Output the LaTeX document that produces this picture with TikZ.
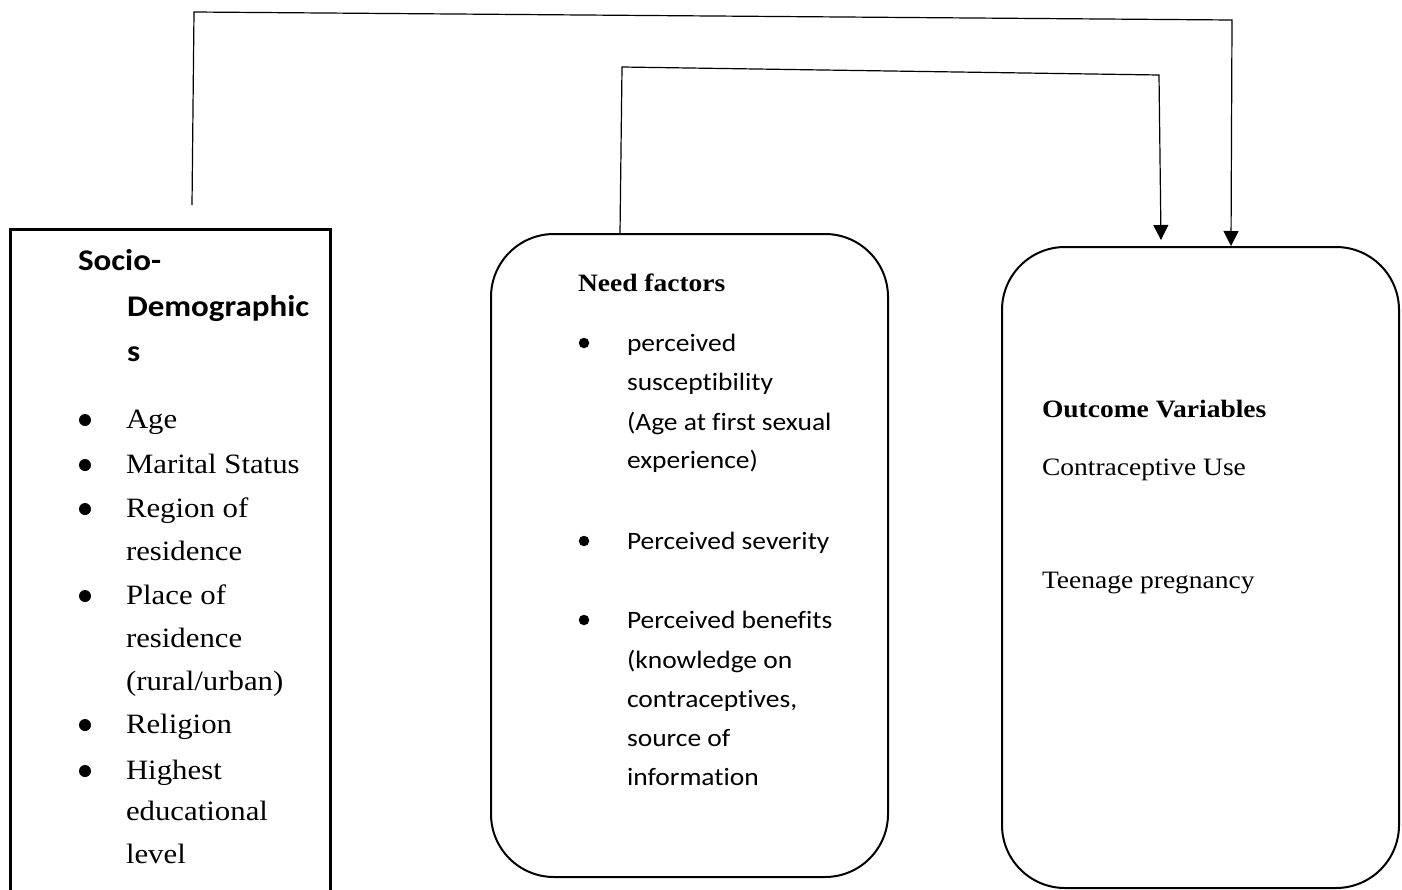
\documentclass[tikz,border=0pt]{standalone}
\usepackage{fontspec}
\usepackage{graphicx}
\setmainfont{Liberation Serif}
\newfontfamily\calfont[Ligatures=NoCommon]{Carlito}
\usetikzlibrary{arrows.meta,calc}
\newcommand\mywide[1]{\scalebox{1.1}[1]{#1}}
\tikzset{
  sqbox/.style={draw, line width=2.6pt, rectangle, inner sep=0pt},
  rbox/.style={draw, line width=2pt, rectangle, rounded corners=63pt, inner sep=0pt},
  txt/.style={anchor=base west, inner sep=0pt, outer sep=0pt},
  sertxt/.style={txt, font=\fontsize{28}{34}\selectfont},
  hdsans/.style={txt, font=\calfont\bfseries\fontsize{30}{36}\selectfont},
  sanstxt/.style={txt, font=\calfont\fontsize{25}{30}\selectfont},
  hdser/.style={txt, font=\bfseries\fontsize{25}{30}\selectfont},
  outtxt/.style={txt, font=\fontsize{25}{30}\selectfont},
  bdot/.style={circle, fill=black, inner sep=0pt, minimum size=12pt},
  bdotm/.style={circle, fill=black, inner sep=0pt, minimum size=10.5pt},
  conn/.style={draw=black, line width=1.2pt},
  arr/.style={conn, -{Triangle[width=15pt,length=15pt]}}
}
\begin{document}
\begin{tikzpicture}[x=1pt,y=1pt]
\useasboundingbox (0,0) rectangle (1402,-889);
\fill[white] (0,0) rectangle (1402,-889);

% boxes
\node[sqbox, minimum width=320pt, minimum height=720pt, anchor=north west] (socio) at (9,-228) {};
\node[rbox, minimum width=397pt, minimum height=643pt, anchor=north west] (need) at (490,-233) {};
\node[rbox, minimum width=397pt, minimum height=641pt, anchor=north west] (outc) at (1001,-246) {};

% connectors
\coordinate (sStart) at (192,-205);
\draw[arr] (sStart) -- (194,-12) -- (1232,-20) -- ($(outc.north west)+(230,0)$);
\draw[arr] ($(need.north west)+(130,0)$) -- (622,-67) -- (1159,-75) -- ($(outc.north west)+(160,6)$);

% left box text
\node[hdsans] (h1) at (78,-270) {\mywide{Socio-}};
\node[hdsans] (h2) at (127,-316) {\mywide{Demographic}};
\node[hdsans] (h3) at (127,-361) {\mywide{s}};

\node[bdot] (lb1) at (85,-420) {};
\node[sertxt] (l1) at (126,-428) {\mywide{Age}};
\node[bdot] (lb2) at (85,-465) {};
\node[sertxt] (l2) at (126,-473) {\mywide{Marital Status}};
\node[bdot] (lb3) at (85,-509) {};
\node[sertxt] (l3) at (126,-517) {\mywide{Region of}};
\node[sertxt] (l4) at (126,-560) {\mywide{residence}};
\node[bdot] (lb4) at (85,-596) {};
\node[sertxt] (l5) at (126,-604) {\mywide{Place of}};
\node[sertxt] (l6) at (126,-647) {\mywide{residence}};
\node[sertxt] (l7) at (126,-690) {\mywide{(rural/urban)}};
\node[bdot] (lb5) at (85,-725) {};
\node[sertxt] (l8) at (126,-733) {\mywide{Religion}};
\node[bdot] (lb6) at (85,-771) {};
\node[sertxt] (l9) at (126,-779) {\mywide{Highest}};
\node[sertxt] (l10) at (126,-820) {\mywide{educational}};
\node[sertxt] (l11) at (126,-863) {\mywide{level}};

% middle box text
\node[hdser] (nh) at (578,-291) {\mywide{Need factors}};
\node[bdotm] (mb1) at (584,-343) {};
\node[sanstxt] (m1) at (627,-351) {\mywide{perceived}};
\node[sanstxt] (m2) at (627,-390) {\mywide{susceptibility}};
\node[sanstxt] (m3) at (627,-430) {\mywide{(Age at first sexual}};
\node[sanstxt] (m4) at (627,-468) {\mywide{experience)}};
\node[bdotm] (mb2) at (584,-541) {};
\node[sanstxt] (m5) at (627,-549) {\mywide{Perceived severity}};
\node[bdotm] (mb3) at (584,-620) {};
\node[sanstxt] (m6) at (627,-628) {\mywide{Perceived benefits}};
\node[sanstxt] (m7) at (627,-668) {\mywide{(knowledge on}};
\node[sanstxt] (m8) at (627,-707) {\mywide{contraceptives,}};
\node[sanstxt] (m9) at (627,-746) {\mywide{source of}};
\node[sanstxt] (m10) at (627,-785) {\mywide{information}};

% right box text
\node[hdser] (oh) at (1042,-417) {\mywide{Outcome Variables}};
\node[outtxt] (o1) at (1042,-475) {\mywide{Contraceptive Use}};
\node[outtxt] (o2) at (1042,-588) {\mywide{Teenage pregnancy}};
\end{tikzpicture}
\end{document}
